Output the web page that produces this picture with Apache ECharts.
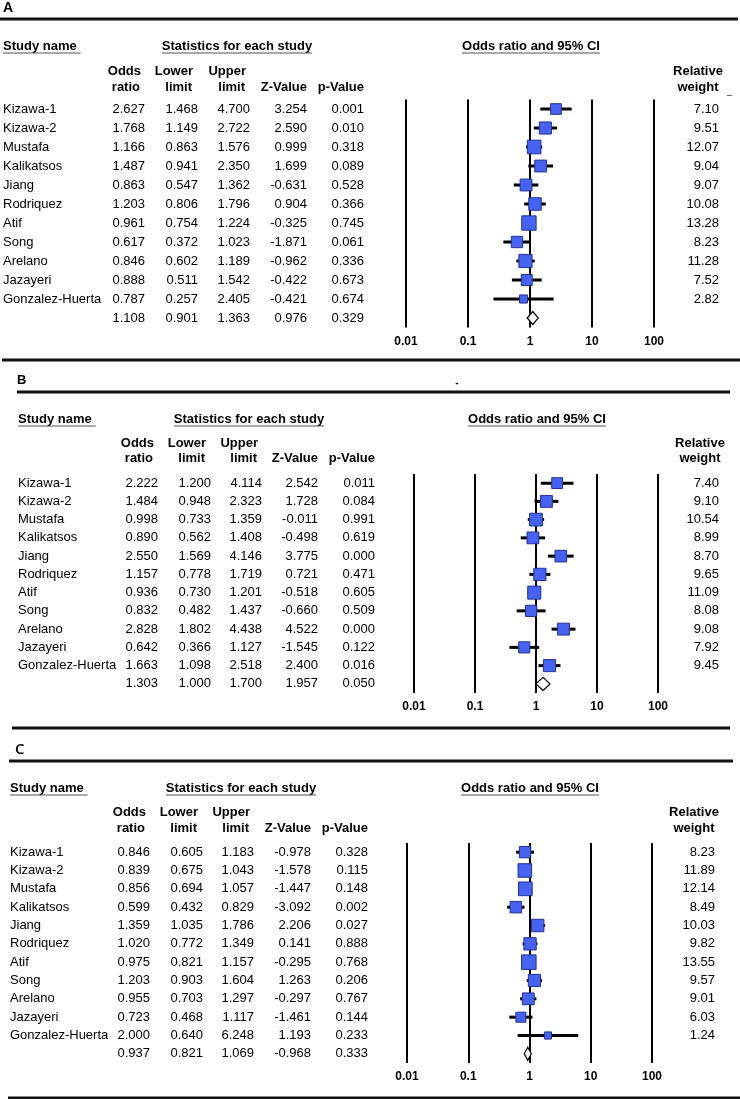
<!DOCTYPE html>
<html><head><meta charset="utf-8">
<script src="https://cdn.jsdelivr.net/npm/echarts/dist/echarts.min.js"></script>
<style>html,body{margin:0;padding:0;background:#fff}#c{width:740px;height:1099px}</style>
</head><body><div id="c"></div>
<script>
// ---------------- DATA ----------------
const studies = ["Kizawa-1","Kizawa-2","Mustafa","Kalikatsos","Jiang","Rodriquez","Atif","Song","Arelano","Jazayeri","Gonzalez-Huerta"];
const axisTicks = ["0.01","0.1","1","10","100"];

// Panel A
const orA = [2.627,1.768,1.166,1.487,0.863,1.203,0.961,0.617,0.846,0.888,0.787];
const loA = [1.468,1.149,0.863,0.941,0.547,0.806,0.754,0.372,0.602,0.511,0.257];
const upA = [4.700,2.722,1.576,2.350,1.362,1.796,1.224,1.023,1.189,1.542,2.405];
const zA  = [3.254,2.590,0.999,1.699,-0.631,0.904,-0.325,-1.871,-0.962,-0.422,-0.421];
const pA  = [0.001,0.010,0.318,0.089,0.528,0.366,0.745,0.061,0.336,0.673,0.674];
const wA  = [7.10,9.51,12.07,9.04,9.07,10.08,13.28,8.23,11.28,7.52,2.82];
const sumA = [1.108,0.901,1.363,0.976,0.329];

// Panel B
const orB = [2.222,1.484,0.998,0.890,2.550,1.157,0.936,0.832,2.828,0.642,1.663];
const loB = [1.200,0.948,0.733,0.562,1.569,0.778,0.730,0.482,1.802,0.366,1.098];
const upB = [4.114,2.323,1.359,1.408,4.146,1.719,1.201,1.437,4.438,1.127,2.518];
const zB  = [2.542,1.728,-0.011,-0.498,3.775,0.721,-0.518,-0.660,4.522,-1.545,2.400];
const pB  = [0.011,0.084,0.991,0.619,0.000,0.471,0.605,0.509,0.000,0.122,0.016];
const wB  = [7.40,9.10,10.54,8.99,8.70,9.65,11.09,8.08,9.08,7.92,9.45];
const sumB = [1.303,1.000,1.700,1.957,0.050];

// Panel C
const orC = [0.846,0.839,0.856,0.599,1.359,1.020,0.975,1.203,0.955,0.723,2.000];
const loC = [0.605,0.675,0.694,0.432,1.035,0.772,0.821,0.903,0.703,0.468,0.640];
const upC = [1.183,1.043,1.057,0.829,1.786,1.349,1.157,1.604,1.297,1.117,6.248];
const zC  = [-0.978,-1.578,-1.447,-3.092,2.206,0.141,-0.295,1.263,-0.297,-1.461,1.193];
const pC  = [0.328,0.115,0.148,0.002,0.027,0.888,0.768,0.206,0.767,0.144,0.233];
const wC  = [8.23,11.89,12.14,8.49,10.03,9.82,13.55,9.57,9.01,6.03,1.24];
const sumC = [0.937,0.821,1.069,-0.968,0.333];

// ---------------- LAYOUT ----------------
const FONT = '"Liberation Sans", Arial, sans-serif';
const layouts = [
  {label:'A', labelX:3, labelY:8, labelFont:'bold 14px '+FONT,
   rules:[{y:19,x1:0,x2:738}], titleY:46, nameX:3, statsC:237, ciC:531,
   hdrY1:71, hdrY2:87, colR:[145,198,250,307,364], wR:719, relC:698,
   grid:{left:406,width:248,top:99.5,height:228}},
  {label:'B', labelX:17, labelY:380, labelFont:'bold 13px '+FONT,
   rules:[{y:360,x1:2,x2:740},{y:392,x1:17,x2:730}], titleY:419, nameX:18, statsC:249, ciC:537,
   hdrY1:443, hdrY2:458, colR:[158,211,262,318,375], wR:719, relC:700,
   grid:{left:414,width:244,top:474,height:219}},
  {label:'C', labelX:15, labelY:750, labelFont:'600 15px "Open Sans", '+FONT,
   rules:[{y:728,x1:12,x2:730},{y:761,x1:9,x2:733},{y:1098,x1:8,x2:740}], titleY:788, nameX:10, statsC:241, ciC:530,
   hdrY1:812, hdrY2:828, colR:[150,203,254,311,368], wR:715, relC:694,
   grid:{left:407,width:245,top:843,height:220}}
];
const panels = [
  {or:orA, lo:loA, up:upA, z:zA, p:pA, w:wA, sum:sumA},
  {or:orB, lo:loB, up:upB, z:zB, p:pB, w:wB, sum:sumB},
  {or:orC, lo:loC, up:upC, z:zC, p:pC, w:wC, sum:sumC}
];

const f3 = v => v.toFixed(3);
const f2 = v => v.toFixed(2);
const ctx = document.createElement('canvas').getContext('2d');
function tw(text, font){ ctx.font = font; return ctx.measureText(text).width; }

const TXT = '13px ' + FONT;
const BOLD = 'bold 13px ' + FONT;

const graphic = [];
function gText(x, y, text, font, align){
  graphic.push({type:'text', x:x, y:y, silent:true,
    style:{text:text, font:font, fill:'#000', textAlign:align||'left', textVerticalAlign:'middle'}});
}
function gLine(x1,y1,x2,y2,w,color){
  graphic.push({type:'line', silent:true, shape:{x1:x1,y1:y1,x2:x2,y2:y2},
    style:{stroke:color||'#000', lineWidth:w}});
}

layouts.forEach(L => {
  L.rules.forEach(r => gLine(r.x1, r.y, r.x2, r.y, 3, '#111'));
  gText(L.labelX, L.labelY, L.label, L.labelFont, 'left');
  const sn = 'Study name';
  gText(L.nameX, L.titleY, sn, BOLD, 'left');
  gLine(L.nameX, L.titleY+7, L.nameX + tw(sn, BOLD) + 4, L.titleY+7, 1.2, '#555');
  const st = 'Statistics for each study';
  const stw = tw(st, BOLD);
  gText(L.statsC, L.titleY, st, BOLD, 'center');
  gLine(L.statsC - stw/2, L.titleY+7, L.statsC + stw/2, L.titleY+7, 1.2, '#555');
  const ci = 'Odds ratio and 95% CI';
  const ciw = tw(ci, BOLD);
  gText(L.ciC, L.titleY, ci, BOLD, 'center');
  gLine(L.ciC - ciw/2, L.titleY+7, L.ciC + ciw/2, L.titleY+7, 1.2, '#555');
  const h1 = ['Odds','Lower','Upper','',''];
  const h2 = ['ratio','limit','limit','Z-Value','p-Value'];
  const hOff = [4,5,4,0,0];
  h1.forEach((t,k)=>{ if(t) gText(L.colR[k]-hOff[k], L.hdrY1, t, BOLD, 'right'); });
  h2.forEach((t,k)=>{ gText(L.colR[k]-hOff[k]-(k<3?1:0), L.hdrY2, t, BOLD, 'right'); });
  gText(L.relC, L.hdrY1, 'Relative', BOLD, 'center');
  gText(L.relC, L.hdrY2, 'weight', BOLD, 'center');
});
// small stray marks present in the original figure
gText(727, 92, '_', '9px ' + FONT, 'left');
gText(457, 383, '-', 'bold 10px ' + FONT, 'center');

// ---------------- SERIES ----------------
const grids = [], xAxes = [], yAxes = [], series = [];
layouts.forEach((L, gi) => {
  const P = panels[gi];
  grids.push(Object.assign({containLabel:false}, L.grid));
  xAxes.push({type:'log', logBase:10, min:0.01, max:100, gridIndex:gi,
    axisLine:{show:false}, axisTick:{show:false},
    splitLine:{show:true, lineStyle:{color:'#000', width:2}},
    axisLabel:{margin:8, fontFamily:FONT, fontWeight:'bold', fontSize:12, color:'#000',
      formatter: v => { const k = Math.round(Math.log10(v)) + 2; return axisTicks[k] !== undefined ? axisTicks[k] : ''; }}
  });
  yAxes.push({type:'value', min:-0.5, max:11.5, inverse:true, gridIndex:gi, show:false});

  series.push({
    type:'custom', xAxisIndex:gi, yAxisIndex:gi, silent:true, animation:false,
    data: P.or.map((o,i)=>[i, o, P.lo[i], P.up[i], P.w[i]]),
    encode:{x:[1,2,3], y:0},
    renderItem:(params, api) => {
      const i = api.value(0);
      const c = api.coord([api.value(1), i]);
      const cl = api.coord([api.value(2), i]);
      const cu = api.coord([api.value(3), i]);
      const s = 6.4 + 0.6 * api.value(4);
      return {type:'group', children:[
        {type:'line', shape:{x1:cl[0], y1:c[1], x2:cu[0], y2:c[1]}, style:{stroke:'#000', lineWidth:3}},
        {type:'rect', shape:{x:c[0]-s/2, y:c[1]-s/2, width:s, height:s},
          style:{fill:'#4562F2', stroke:'#22338f', lineWidth:1}}
      ]};
    }
  });
  series.push({
    type:'custom', xAxisIndex:gi, yAxisIndex:gi, silent:true, animation:false,
    data: [[11, P.sum[0], P.sum[1], P.sum[2]]],
    encode:{x:[1,2,3], y:0},
    renderItem:(params, api) => {
      const i = api.value(0);
      const c = api.coord([api.value(1), i]);
      const cl = api.coord([api.value(2), i]);
      const cu = api.coord([api.value(3), i]);
      const h = 6.5;
      return {type:'polygon', shape:{points:[[cl[0],c[1]],[c[0],c[1]-h],[cu[0],c[1]],[c[0],c[1]+h]]},
        style:{fill:'#fff', stroke:'#000', lineWidth:1.2}};
    }
  });
  series.push({
    type:'custom', xAxisIndex:gi, yAxisIndex:gi, silent:true, animation:false, clip:false,
    data: Array.from({length:12}, (_, i) => [1, i]),
    encode:{x:0, y:1},
    renderItem:(params, api) => {
      const i = api.value(1);
      const y = api.coord([1, i])[1];
      const kids = [];
      const txt = (x, t, align) => kids.push({type:'text',
        style:{x:x, y:y, text:t, font:TXT, fill:'#000', textAlign:align, textVerticalAlign:'middle'}});
      let vals;
      if (i < 11) {
        txt(L.nameX, studies[i], 'left');
        vals = [P.or[i], P.lo[i], P.up[i], P.z[i], P.p[i]];
        txt(L.wR, f2(P.w[i]), 'right');
      } else {
        vals = P.sum;
      }
      vals.forEach((v,k)=>txt(L.colR[k], f3(v), 'right'));
      return {type:'group', children:kids};
    }
  });
});

const chart = echarts.init(document.getElementById('c'), null, {renderer:'canvas'});
chart.setOption({
  animation:false,
  backgroundColor:'#fff',
  grid: grids, xAxis: xAxes, yAxis: yAxes, series: series, graphic: graphic
});
</script>
</body></html>
